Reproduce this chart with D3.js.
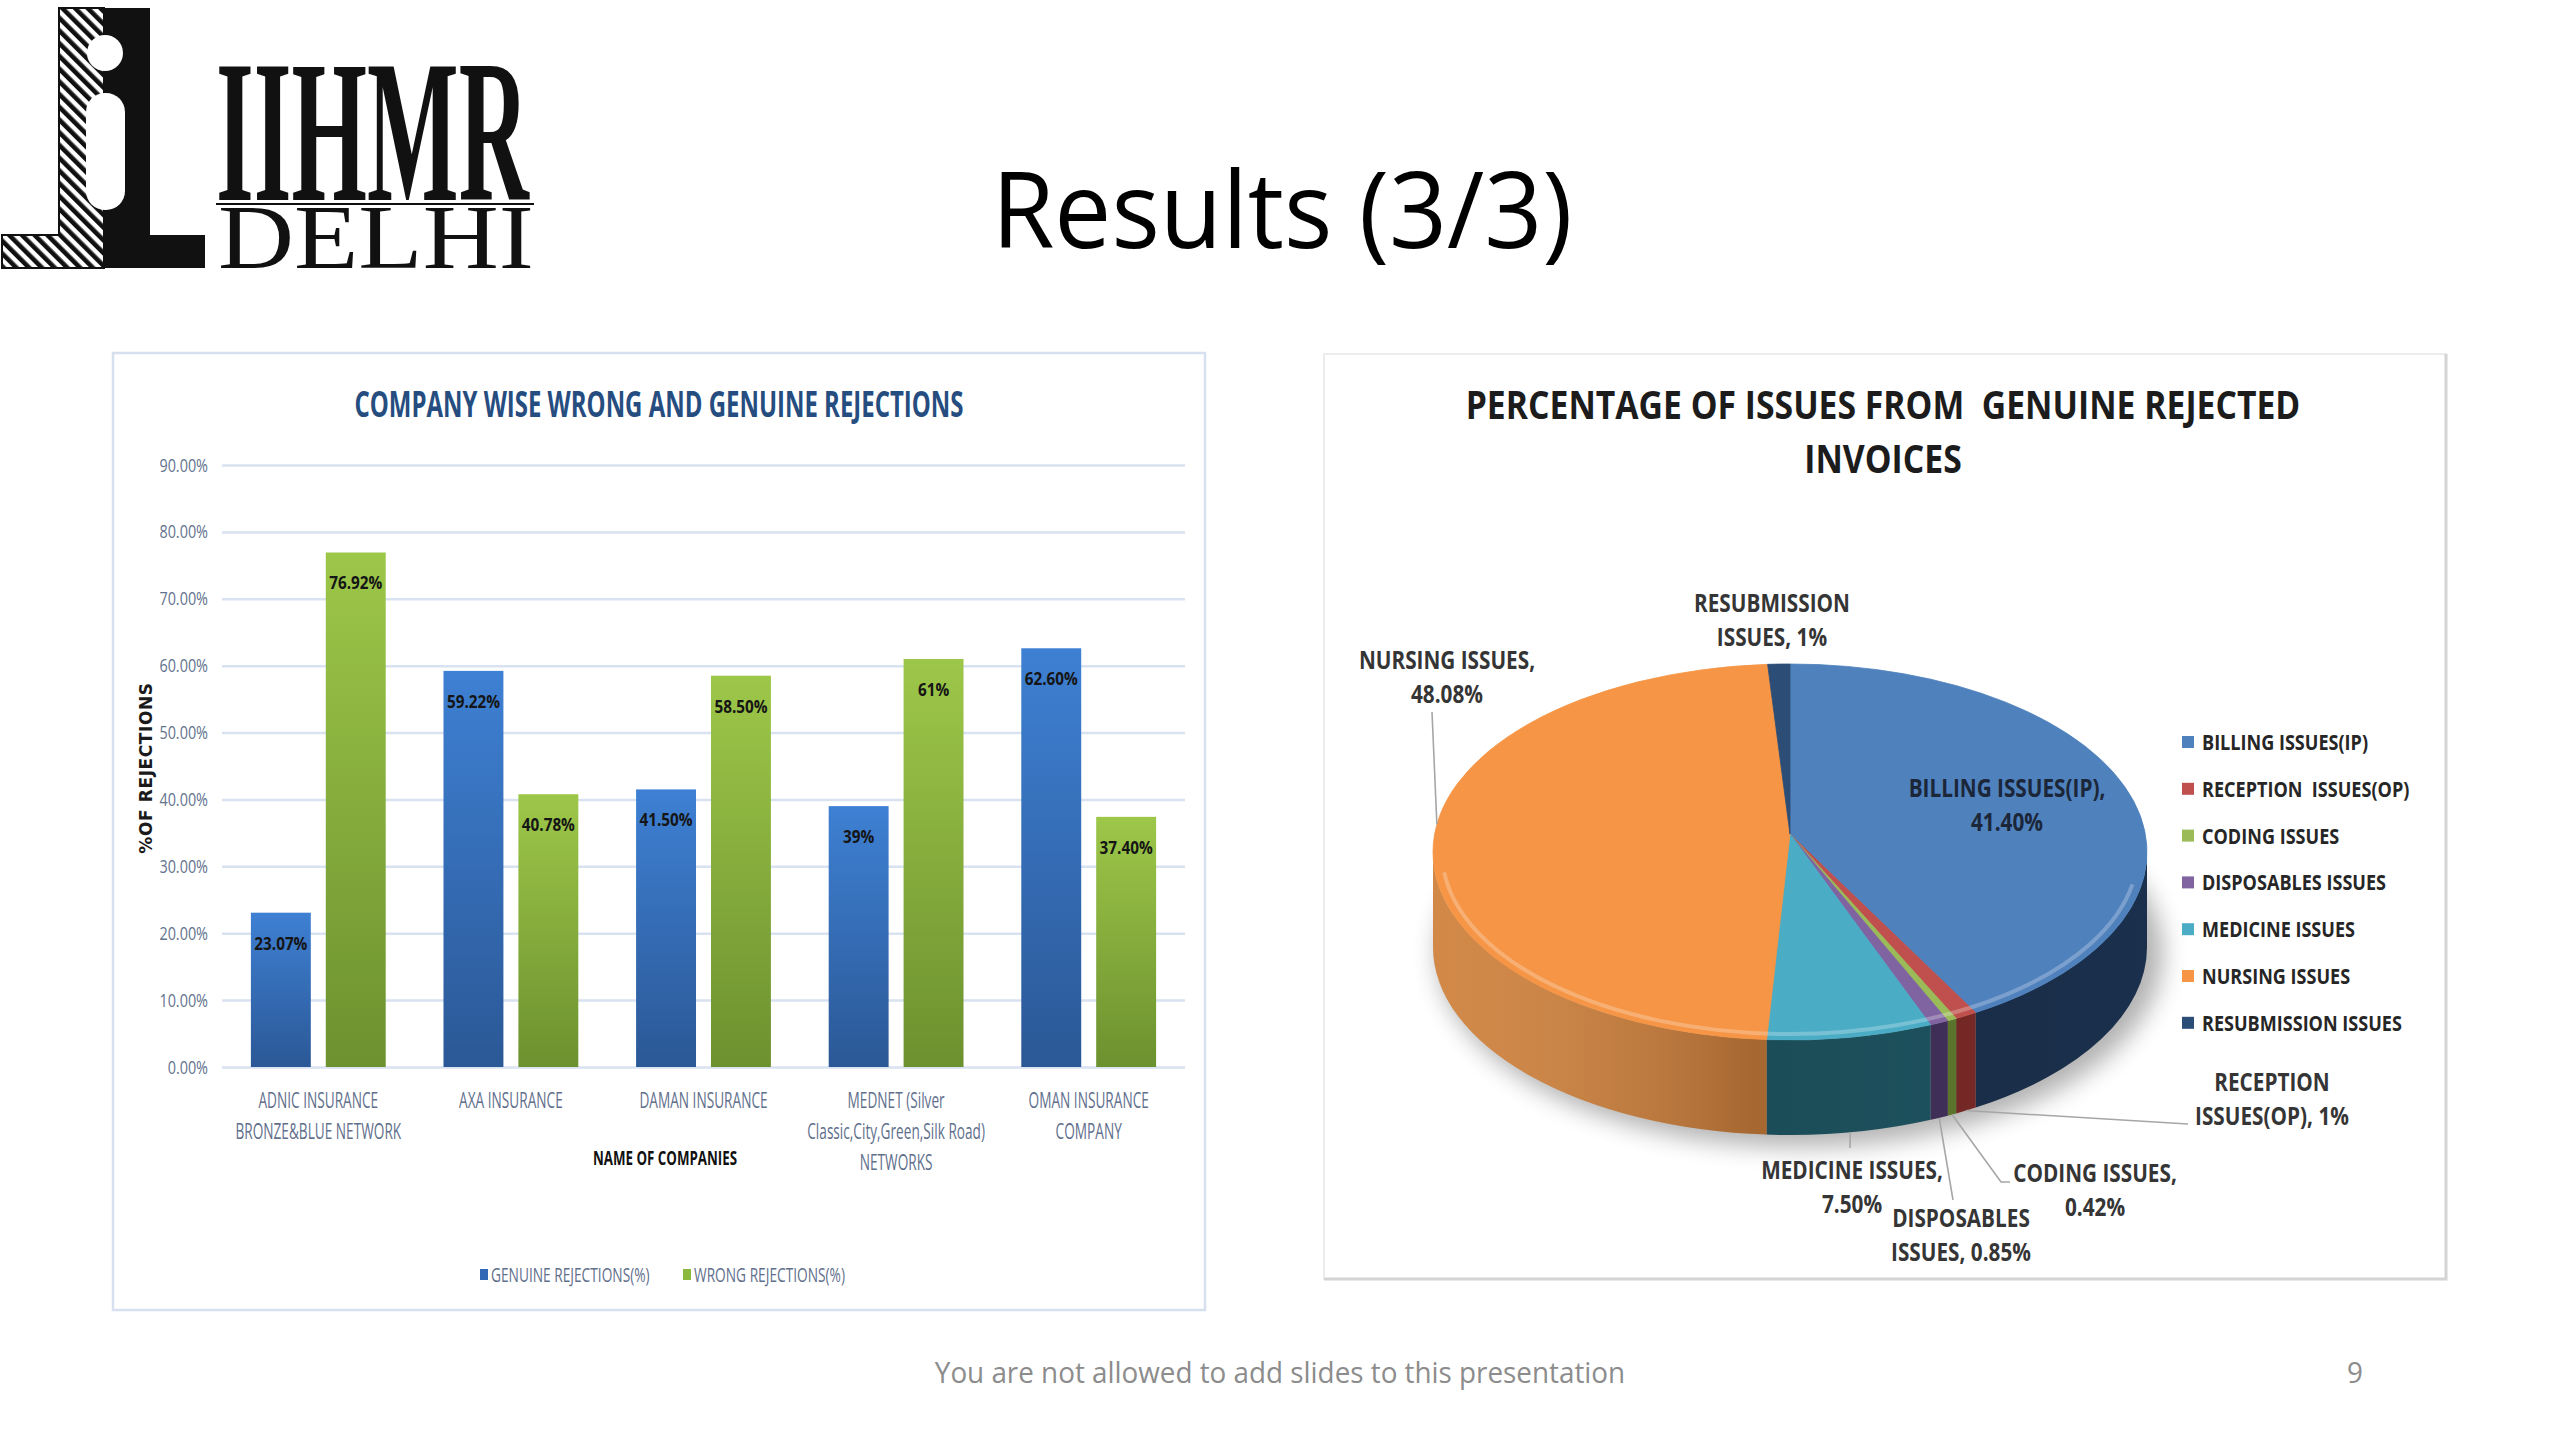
<!DOCTYPE html>
<html><head><meta charset="utf-8">
<script src="https://cdn.jsdelivr.net/npm/d3@7/dist/d3.min.js"></script>
<style>body{margin:0;background:#fff}svg{display:block}</style>
</head><body>
<svg id="c" width="2560" height="1440"></svg>
<script>
// ---------- DATA ----------
const companies = ["ADNIC INSURANCE BRONZE&BLUE NETWORK","AXA INSURANCE","DAMAN INSURANCE","MEDNET (Silver Classic,City,Green,Silk Road) NETWORKS","OMAN INSURANCE COMPANY"];
const companyLines = [["ADNIC INSURANCE","BRONZE&BLUE NETWORK"],["AXA INSURANCE"],["DAMAN INSURANCE"],["MEDNET (Silver","Classic,City,Green,Silk Road)","NETWORKS"],["OMAN INSURANCE","COMPANY"]];
const seriesNames = ["GENUINE REJECTIONS(%)","WRONG REJECTIONS(%)"];
const genuine = [23.07,59.22,41.50,39,62.60];
const wrong = [76.92,40.78,58.50,61,37.40];
const genuineLabels = ["23.07%","59.22%","41.50%","39%","62.60%"];
const wrongLabels = ["76.92%","40.78%","58.50%","61%","37.40%"];
const yTicks = [0,10,20,30,40,50,60,70,80,90];

const issues = ["BILLING ISSUES(IP)","RECEPTION  ISSUES(OP)","CODING ISSUES","DISPOSABLES ISSUES","MEDICINE ISSUES","NURSING ISSUES","RESUBMISSION ISSUES"];
const issueValues = [41.40,1,0.42,0.85,7.50,48.08,1];
const issueLabels = [["BILLING ISSUES(IP),","41.40%"],["RECEPTION","ISSUES(OP), 1%"],["CODING ISSUES,","0.42%"],["DISPOSABLES","ISSUES, 0.85%"],["MEDICINE ISSUES,","7.50%"],["NURSING ISSUES,","48.08%"],["RESUBMISSION","ISSUES, 1%"]];

// ---------- STYLE ----------
const svg = d3.select("#c");
const defs = svg.append("defs");
const F = "'Open Sans', 'Liberation Sans', sans-serif";

function stext(g, str, x, y, sx, opts){
  const t = g.append("text").attr("transform",`translate(${x},${y}) scale(${sx},1)`).text(str)
    .attr("font-family", opts.family||F).attr("font-size",opts.size).attr("fill",opts.fill||"#000")
    .attr("font-weight",opts.weight||"normal").attr("text-anchor",opts.anchor||"middle");
  if(opts.ls) t.attr("letter-spacing",opts.ls);
  return t;
}

// ---------- LOGO ----------
const pat = defs.append("pattern").attr("id","hatch").attr("width",9).attr("height",9)
  .attr("patternUnits","userSpaceOnUse").attr("patternTransform","rotate(-45)");
pat.append("rect").attr("width",9).attr("height",9).attr("fill","#fff");
pat.append("rect").attr("width",4.6).attr("height",9).attr("fill","#111");
const logo = svg.append("g");
logo.append("path").attr("d","M59,8H104V268H2V235H59Z").attr("fill","url(#hatch)").attr("stroke","#111").attr("stroke-width",2);
logo.append("path").attr("d","M104,8H150V235H205V268H104Z").attr("fill","#111");
logo.append("circle").attr("cx",105).attr("cy",53).attr("r",18).attr("fill","#fff");
logo.append("rect").attr("x",86).attr("y",93).attr("width",39).attr("height",117).attr("rx",19).attr("fill","#fff");
stext(logo,"IIHMR",216,200,0.476,{family:"'Liberation Serif', serif",size:204,weight:"bold",anchor:"start",fill:"#111"});
logo.append("rect").attr("x",216).attr("y",203).attr("width",318).attr("height",2).attr("fill","#111");
stext(logo,"DELHI",218,268,1.157,{family:"'Liberation Serif', serif",size:91,anchor:"start",fill:"#111"});

// ---------- SLIDE TITLE / FOOTER ----------
stext(svg,"Results (3/3)",1282,248,0.95,{size:107,fill:"#000"});
stext(svg,"You are not allowed to add slides to this presentation",1280,1383,0.96,{size:29,fill:"#8c8c8c"});
stext(svg,"9",2355,1383,0.96,{size:29,fill:"#8c8c8c"});

// ---------- BAR CHART ----------
const L = svg.append("g");
L.append("rect").attr("x",113).attr("y",353).attr("width",1092).attr("height",957)
  .attr("fill","#fff").attr("stroke","#d6e0ee").attr("stroke-width",2.5);
stext(L,"COMPANY WISE WRONG AND GENUINE REJECTIONS",659,417,0.685,{size:35,weight:"bold",fill:"#264d80"});

const x0 = d3.scaleBand().domain(companies).range([222,1185]).paddingInner(0.3).paddingOuter(0.15);
const x1 = d3.scaleBand().domain([0,1]).range([0,x0.bandwidth()]).paddingInner(0.2);
const y = d3.scaleLinear().domain([0,90]).range([1067,465]);

const yAxis = L.append("g").attr("transform","translate(222,0)")
  .call(d3.axisLeft(y).tickValues(yTicks).tickSize(-(1185-222)).tickPadding(14).tickFormat(d=>d3.format(".2f")(d)+"%"));
yAxis.select(".domain").remove();
yAxis.selectAll(".tick line").attr("stroke","#d9e2f0").attr("stroke-width",2.5);
yAxis.selectAll(".tick text").attr("x",null).attr("dy",null)
  .attr("transform","translate(-14,6) scale(0.8,1)").attr("text-anchor","end")
  .attr("font-family",F).attr("font-size",18).attr("fill","#63738e");

const gradB = defs.append("linearGradient").attr("id","gB").attr("x1",0).attr("y1",0).attr("x2",0).attr("y2",1);
gradB.append("stop").attr("offset","0%").attr("stop-color","#3e80d3");
gradB.append("stop").attr("offset","100%").attr("stop-color","#2b5896");
const gradG = defs.append("linearGradient").attr("id","gG").attr("x1",0).attr("y1",0).attr("x2",0).attr("y2",1);
gradG.append("stop").attr("offset","0%").attr("stop-color","#9dc749");
gradG.append("stop").attr("offset","100%").attr("stop-color","#6c912f");
const fills = ["url(#gB)","url(#gG)"];
const series = [genuine, wrong];
const seriesLab = [genuineLabels, wrongLabels];

companies.forEach((c,i)=>{
  [0,1].forEach(s=>{
    const v = series[s][i];
    const bx = x0(c)+x1(s);
    L.append("rect").attr("x",bx).attr("y",y(v)).attr("width",x1.bandwidth()).attr("height",y(0)-y(v)).attr("fill",fills[s]);
    stext(L,seriesLab[s][i],bx+x1.bandwidth()/2,y(v)+37,0.85,{size:18,weight:"bold",fill:"#151515"});
  });
  companyLines[i].forEach((ln,k)=>{
    stext(L,ln,x0(c)+x0.bandwidth()/2,1108+k*31,0.62,{size:22,fill:"#5f6f8c"});
  });
});

L.append("text").attr("transform","translate(152,768) rotate(-90)").attr("text-anchor","middle")
  .attr("font-family","'DejaVu Sans', sans-serif").attr("font-weight","bold").attr("font-size",17).attr("letter-spacing",0.6).attr("fill","#1a1a1a")
  .text("%OF REJECTIONS");
stext(L,"NAME OF COMPANIES",665,1165,0.68,{size:19.6,weight:"bold",fill:"#111"});

// legend
const legX = [480,683];
seriesNames.forEach((n,s)=>{
  L.append("rect").attr("x",legX[s]).attr("y",1269).attr("width",8).attr("height",11).attr("fill",s?"#8cb83d":"#3068b5");
  stext(L,n,legX[s]+11,1282,0.7,{size:19.6,anchor:"start",fill:"#5f6f8c"});
});

// ---------- PIE CHART ----------
const R = svg.append("g");
R.append("rect").attr("x",1324).attr("y",354).attr("width",1122).attr("height",925)
  .attr("fill","#fff").attr("stroke","#e6e6e6").attr("stroke-width",1.5);
R.append("path").attr("d","M2446,354V1279H1324").attr("fill","none").attr("stroke","#d4d4d4").attr("stroke-width",3);
stext(R,"PERCENTAGE OF ISSUES FROM  GENUINE REJECTED",1883,419,0.865,{size:39,weight:"bold",fill:"#1c1c1c"}).attr("xml:space","preserve");
stext(R,"INVOICES",1883,473,0.865,{size:39,weight:"bold",fill:"#1c1c1c"});

const topColors = ["#4f81bd","#c0504d","#9bbb59","#8064a2","#4bacc6","#f59545","#2c4d75"];
const sideColors = ["#1e3656","#8a2f2c","#6b8a34","#4b3868","#22606e","#cf813c","#1f3652"];
const cx=1790, cy=852, rx=357, ry=188, D=95, apex=[1790,834];
const P = (a,dz=0)=>[cx+rx*Math.sin(a), cy-ry*Math.cos(a)+dz];
const arcs = d3.pie().sort(null).value(d=>d)(issueValues);

// shadow
const blur = defs.append("filter").attr("id","blur").attr("x","-20%").attr("y","-20%").attr("width","140%").attr("height","140%");
blur.append("feGaussianBlur").attr("stdDeviation",12);
R.append("ellipse").attr("cx",cx+10).attr("cy",cy+D+6).attr("rx",rx+6).attr("ry",ry+6).attr("fill","#000").attr("opacity",0.3).attr("filter","url(#blur)");

// sides
const lo=Math.PI/2, hi=3*Math.PI/2;
const sideG = R.append("g");
arcs.forEach((a,i)=>{
  const s0=Math.max(a.startAngle,lo), s1=Math.min(a.endAngle,hi);
  if(s1<=s0) return;
  const p0=P(s0),p1=P(s1),q1=P(s1,D),q0=P(s0,D);
  const lg = (s1-s0)>Math.PI?1:0;
  sideG.append("path").attr("d",`M${p0}A${rx},${ry} 0 ${lg} 1 ${p1}L${q1}A${rx},${ry} 0 ${lg} 0 ${q0}Z`).attr("fill",sideColors[i]);
});
const shade = defs.append("linearGradient").attr("id","shade").attr("gradientUnits","userSpaceOnUse")
  .attr("x1",cx-rx).attr("y1",0).attr("x2",cx+rx).attr("y2",0);
shade.append("stop").attr("offset","0%").attr("stop-color","#fff").attr("stop-opacity",0.06);
shade.append("stop").attr("offset","45%").attr("stop-color","#000").attr("stop-opacity",0.2);
shade.append("stop").attr("offset","100%").attr("stop-color","#000").attr("stop-opacity",0.12);
sideG.append("path").attr("d",`M${P(lo)}A${rx},${ry} 0 0 1 ${P(hi)}L${P(hi,D)}A${rx},${ry} 0 0 0 ${P(lo,D)}Z`).attr("fill","url(#shade)");

// top face
arcs.forEach((a,i)=>{
  const p0=P(a.startAngle), p1=P(a.endAngle);
  const lg=(a.endAngle-a.startAngle)>Math.PI?1:0;
  R.append("path").attr("d",`M${apex}L${p0}A${rx},${ry} 0 ${lg} 1 ${p1}Z`).attr("fill",topColors[i])
    .attr("stroke",topColors[i]).attr("stroke-width",0.8);
});
// rim highlight
R.append("path").attr("d",(()=>{const r2=rx-9,q=ry-6;const a0=1.75,a1=4.6;
  return `M${cx+r2*Math.sin(a0)},${cy-q*Math.cos(a0)}A${r2},${q} 0 0 1 ${cx+r2*Math.sin(a1)},${cy-q*Math.cos(a1)}`;})())
  .attr("fill","none").attr("stroke","#fff").attr("stroke-opacity",0.25).attr("stroke-width",4);

// labels
const layout = [
  {x:2007,y:797,fill:"#1b2638"},
  {x:2272,y:1091,to:[2188,1124],edge:"b"},
  {x:2095,y:1182,to:[[2001,1182],[2010,1182]],edge:"b"},
  {x:1961,y:1227,to:[1953,1200],edge:"b"},
  {x:1852,y:1179,to:[1850,1148],edge:"b"},
  {x:1447,y:669,to:[1432,712],edge:"t",ang:4.86},
  {x:1772,y:612}
];
arcs.forEach((a,i)=>{
  const o = layout[i];
  const mid = o.ang!==undefined?o.ang:(a.startAngle+a.endAngle)/2;
  if(o.to){
    const e = o.edge==="b"?P(mid,D):P(mid);
    const pts=[e].concat(Array.isArray(o.to[0])?o.to:[o.to]);
    R.append("path").attr("d","M"+pts.join("L")).attr("fill","none").attr("stroke","#a6a6a6").attr("stroke-width",1.6);
  }
  issueLabels[i].forEach((ln,k)=>{
    stext(R,ln,o.x,o.y+k*34,0.83,{size:25,weight:"bold",fill:o.fill||"#353535"});
  });
});

// legend
issues.forEach((n,i)=>{
  const yy = 742+i*46.8;
  R.append("rect").attr("x",2182).attr("y",yy-6).attr("width",12).attr("height",12).attr("fill",topColors[i]);
  stext(R,n,2202,yy+8,0.86,{size:21,weight:"bold",anchor:"start",fill:"#262626"}).attr("xml:space","preserve");
});
</script>
</body></html>
